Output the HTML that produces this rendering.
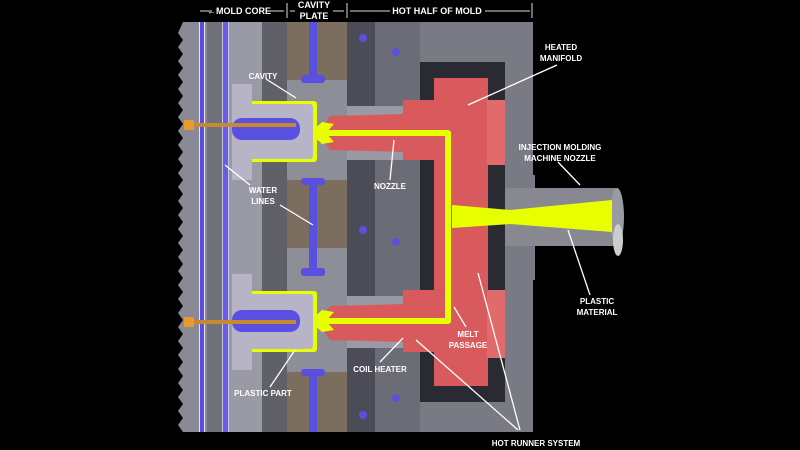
<!DOCTYPE html>
<html><head><style>body{margin:0;background:#000}svg{display:block}text{font-family:"Liberation Sans",sans-serif;font-weight:bold;font-size:8px;fill:#fff;text-anchor:middle}.h{font-size:9px}</style></head><body>
<svg width="800" height="450" viewBox="0 0 800 450">
<rect width="800" height="450" fill="#000"/>
<g stroke="#ddd" stroke-width="1" fill="none">
<line x1="287" y1="3" x2="287" y2="18"/><line x1="347" y1="3" x2="347" y2="18"/><line x1="532" y1="3" x2="532" y2="18"/>
<line x1="200" y1="11" x2="212" y2="11"/><line x1="268" y1="11" x2="284" y2="11"/>
<line x1="290" y1="11" x2="295" y2="11"/><line x1="333" y1="11" x2="344" y2="11"/>
<line x1="350" y1="11" x2="390" y2="11"/><line x1="485" y1="11" x2="530" y2="11"/>
</g>
<text class="h" x="239" y="14">←MOLD CORE</text>
<text class="h" x="314" y="8">CAVITY</text><text class="h" x="314" y="19">PLATE</text>
<text class="h" x="437" y="14">HOT HALF OF MOLD</text>
<polygon points="183,22 287,22 287,432 183,432 178,425 183,418 178,411 183,404 178,397 183,390 178,383 183,376 178,369 183,362 178,355 183,348 178,341 183,334 178,327 183,320 178,313 183,306 178,299 183,292 178,285 183,278 178,271 183,264 178,257 183,250 178,243 183,236 178,229 183,222 178,215 183,208 178,201 183,194 178,187 183,180 178,173 183,166 178,159 183,152 178,145 183,138 178,131 183,124 178,117 183,110 178,103 183,96 178,89 183,82 178,75 183,68 178,61 183,54 178,47 183,40 178,33" fill="#8a8a96"/>
<rect x="199" y="22" width="6" height="410" fill="#e8e8f0"/>
<rect x="200" y="22" width="4" height="410" fill="#5a4ee0"/>
<rect x="207" y="22" width="15" height="410" fill="#70707a"/>
<rect x="222" y="22" width="7" height="410" fill="#c8c8dc"/>
<rect x="223" y="22" width="5" height="410" fill="#6a5ae6"/>
<rect x="229" y="22" width="33" height="410" fill="#9a9aa6"/>
<rect x="262" y="22" width="25" height="410" fill="#606068"/>
<rect x="287" y="22" width="60" height="410" fill="#8e8e98"/>
<rect x="287" y="22" width="60" height="58" fill="#7c6e5e"/>
<rect x="287" y="180" width="60" height="68" fill="#7c6e5e"/>
<rect x="287" y="372" width="60" height="60" fill="#7c6e5e"/>
<rect x="309" y="22" width="8" height="58" fill="#5a50e0"/>
<rect x="301" y="75" width="24" height="8" rx="3" fill="#5a50e0"/>
<rect x="309" y="180" width="8" height="68" fill="#5a50e0"/>
<rect x="301" y="178" width="24" height="7" rx="3" fill="#5a50e0"/>
<rect x="301" y="268" width="24" height="8" rx="3" fill="#5a50e0"/>
<rect x="309" y="248" width="8" height="22" fill="#5a50e0"/>
<rect x="301" y="369" width="24" height="7" rx="3" fill="#5a50e0"/>
<rect x="309" y="372" width="8" height="60" fill="#5a50e0"/>
<rect x="347" y="22" width="186" height="410" fill="#7a7a84"/>
<rect x="347" y="22" width="28" height="410" fill="#4c4c58"/>
<rect x="375" y="22" width="45" height="410" fill="#6c6c76"/>
<rect x="420" y="62" width="85" height="340" fill="#2a2a32"/>
<rect x="505" y="175" width="30" height="105" fill="#7a7a84"/>
<g fill="#5a50e0"><circle cx="363" cy="38" r="4"/><circle cx="396" cy="52" r="4"/><circle cx="363" cy="230" r="4"/><circle cx="396" cy="242" r="4"/><circle cx="396" cy="398" r="4"/><circle cx="363" cy="415" r="4"/></g>
<rect x="347" y="106" width="88" height="10" fill="#9a9aa4"/><rect x="347" y="150" width="88" height="10" fill="#9a9aa4"/>
<rect x="347" y="296" width="88" height="10" fill="#9a9aa4"/><rect x="347" y="338" width="88" height="10" fill="#9a9aa4"/>
<rect x="434" y="78" width="54" height="308" fill="#d85a5c"/>
<rect x="487" y="100" width="18" height="65" fill="#e06a6c"/>
<rect x="487" y="290" width="18" height="68" fill="#e06a6c"/>
<polygon points="403,100 440,100 440,160 403,160 403,152 330,150 318,133 330,116 403,114" fill="#d85a5c"/>
<polygon points="403,290 440,290 440,352 403,352 403,342 330,340 318,323 330,306 403,304" fill="#d85a5c"/>
<rect x="505" y="188" width="112" height="58" fill="#888890"/>
<ellipse cx="617" cy="217" rx="7" ry="29" fill="#9a9aa2"/>
<ellipse cx="618" cy="240" rx="5" ry="16" fill="#ccc"/>
<polygon points="452,205 510,210 612,200 612,232 510,224 452,228" fill="#e8ff00"/>
<g stroke="#e8ff00" stroke-width="6" fill="none" stroke-linejoin="round">
<polyline points="322,133 448,133 448,321 322,321"/>
</g>
<polygon points="310,133 322,122 334,124 326,133 334,142 322,144" fill="#e8ff00"/>
<polygon points="310,321 322,310 334,312 326,321 334,330 322,332" fill="#e8ff00"/>
<rect x="236" y="101" width="81" height="61" rx="3" fill="#e8ff00"/>
<rect x="232" y="84" width="20" height="96" fill="#b8b4c8"/>
<rect x="238" y="104" width="75" height="55" rx="3" fill="#b8b4c8"/>
<rect x="232" y="118" width="68" height="22" rx="10" fill="#5a50e0"/>
<rect x="236" y="291" width="81" height="61" rx="3" fill="#e8ff00"/>
<rect x="232" y="274" width="20" height="96" fill="#b8b4c8"/>
<rect x="238" y="294" width="75" height="55" rx="3" fill="#b8b4c8"/>
<rect x="232" y="310" width="68" height="22" rx="10" fill="#5a50e0"/>
<rect x="186" y="123" width="110" height="4" fill="#c88a30"/><rect x="184" y="120" width="10" height="10" fill="#e89a30"/>
<rect x="186" y="320" width="110" height="4" fill="#c88a30"/><rect x="184" y="317" width="10" height="10" fill="#e89a30"/>
<g stroke="#fff" stroke-width="1.3">
<line x1="266" y1="79" x2="296" y2="98"/>
<line x1="250" y1="185" x2="225" y2="165"/>
<line x1="280" y1="205" x2="313" y2="225"/>
<line x1="390" y1="180" x2="394" y2="140"/>
<line x1="557" y1="65" x2="468" y2="105"/>
<line x1="558" y1="162" x2="580" y2="185"/>
<line x1="590" y1="295" x2="568" y2="230"/>
<line x1="466" y1="327" x2="454" y2="307"/>
<line x1="380" y1="362" x2="403" y2="338"/>
<line x1="270" y1="387" x2="295" y2="350"/>
<line x1="518" y1="430" x2="416" y2="340"/>
<line x1="520" y1="430" x2="478" y2="273"/>
</g>
<text x="263" y="79">CAVITY</text>
<text x="263" y="193">WATER</text><text x="263" y="204">LINES</text>
<text x="390" y="189">NOZZLE</text>
<text x="561" y="50">HEATED</text><text x="561" y="61">MANIFOLD</text>
<text x="560" y="150">INJECTION MOLDING</text><text x="560" y="161">MACHINE NOZZLE</text>
<text x="597" y="304">PLASTIC</text><text x="597" y="315">MATERIAL</text>
<text x="468" y="337">MELT</text><text x="468" y="348">PASSAGE</text>
<text x="380" y="372">COIL HEATER</text>
<text x="263" y="396">PLASTIC PART</text>
<text x="536" y="446">HOT RUNNER SYSTEM</text>
</svg>
</body></html>
